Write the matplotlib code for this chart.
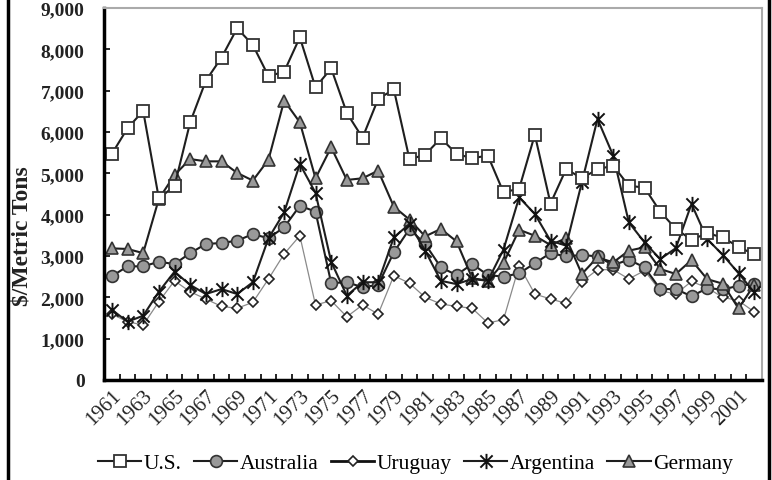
"""Unit prices, $/metric ton, 1961-2002: U.S., Australia, Uruguay, Argentina, Germany."""

import matplotlib

matplotlib.use("Agg")
import matplotlib.pyplot as plt
import numpy as np
from matplotlib.lines import Line2D
from matplotlib.path import Path

years = list(range(1961, 2003))

us = [5470, 6090, 6510, 4395, 4690, 6235, 7240, 7800, 8510, 8105,
      7350, 7460, 8290, 7080, 7540, 6460, 5860, 6800, 7030, 5340,
      5450, 5850, 5470, 5365, 5430, 4540, 4630, 5935, 4270, 5105,
      4880, 5100, 5185, 4700, 4655, 4075, 3655, 3395, 3550, 3450,
      3220, 3040]
australia = [2510, 2750, 2750, 2860, 2805, 3070, 3290, 3315, 3370, 3530,
             3430, 3695, 4215, 4075, 2345, 2365, 2245, 2300, 3090, 3655,
             3290, 2725, 2540, 2805, 2540, 2500, 2580, 2825, 3070, 2990,
             3025, 2990, 2780, 2910, 2725, 2200, 2200, 2025, 2220, 2190,
             2280, 2320]
uruguay = [1595, 1410, 1330, 1895, 2400, 2135, 1960, 1780, 1735, 1880,
           2445, 3050, 3490, 1815, 1920, 1530, 1815, 1595, 2525, 2340,
           2000, 1840, 1780, 1735, 1380, 1460, 2765, 2080, 1960, 1855,
           2380, 2670, 2670, 2445, 2645, 2160, 2080, 2385, 2230, 2000,
           1920, 1650]
argentina = [1700, 1410, 1555, 2135, 2620, 2300, 2080, 2200, 2080, 2365,
             3430, 4055, 5225, 4530, 2860, 2040, 2365, 2365, 3450, 3775,
             3130, 2400, 2320, 2445, 2400, 3155, 4420, 4015, 3370, 3250,
             4780, 6315, 5430, 3815, 3330, 2925, 3190, 4260, 3410, 3025,
             2585, 2120]
germany = [3185, 3170, 3070, 4380, 4960, 5345, 5290, 5290, 5010, 4825,
           5330, 6760, 6235, 4880, 5630, 4840, 4880, 5065, 4195, 3880,
           3475, 3655, 3355, 2465, 2400, 2830, 3635, 3490, 3265, 3430,
           2565, 2970, 2845, 3130, 3210, 2685, 2565, 2900, 2440, 2330,
           1730, 2300]

y_ticks = list(range(0, 9001, 1000))
x_labels = list(range(1961, 2002, 2))

SERIF = "Liberation Serif"
DARK = "#1e1e1e"

# Excel-style asterisk: an X plus a vertical bar
star = Path(
    [(-1, -1), (1, 1), (-1, 1), (1, -1), (0, -1.25), (0, 1.25)],
    [Path.MOVETO, Path.LINETO, Path.MOVETO, Path.LINETO, Path.MOVETO, Path.LINETO],
)

styles = {
    "U.S.": dict(marker="s", ms=8, mfc="white", mec="#333333", mew=1.3, color=DARK, lw=1.5),
    "Australia": dict(marker="o", ms=8.5, mfc="#999999", mec="#333333", mew=1.2, color=DARK, lw=1.5),
    "Uruguay": dict(marker="D", ms=5.5, mfc="white", mec="#222222", mew=1.2, color="#8a8a8a", lw=0.9),
    "Argentina": dict(marker=star, ms=11, mfc="none", mec="#111111", mew=1.4, color=DARK, lw=1.5),
    "Germany": dict(marker="^", ms=8.5, mfc="#999999", mec="#333333", mew=1.2, color=DARK, lw=1.5),
}
series = {"U.S.": us, "Australia": australia, "Uruguay": uruguay,
          "Argentina": argentina, "Germany": germany}

fig = plt.figure(figsize=(7.72, 4.81), dpi=100)
ax = fig.add_axes([104 / 772, 100 / 481, 658 / 772, 372 / 481])

for name in ["Uruguay", "Australia", "Germany", "Argentina", "U.S."]:
    ax.plot(years, series[name], label=name, **styles[name])

ax.set_xlim(1960.5, 2002.5)
ax.set_ylim(0, 9000)
ax.set_yticks(y_ticks)
ax.set_yticklabels([f"{v:,}" for v in y_ticks], fontfamily=SERIF, fontsize=14,
                   fontweight="bold", color="#222222")
ax.set_xticks(x_labels)
ax.set_xticklabels([str(v) for v in x_labels], fontfamily=SERIF, fontsize=15,
                   color="#222222", rotation=45, ha="right", rotation_mode="anchor")
ax.set_xticks(np.arange(1960.5, 2003, 1.0), minor=True)
ax.tick_params(axis="x", which="major", length=0, pad=4)
ax.tick_params(axis="x", which="minor", direction="in", length=4, width=1.2)
ax.tick_params(axis="y", direction="in", length=4, width=1.2, pad=14)

for side in ("left", "bottom"):
    ax.spines[side].set_linewidth(2.5)
    ax.spines[side].set_color("black")
for side in ("top", "right"):
    ax.spines[side].set_linewidth(1.5)
    ax.spines[side].set_color("#aaaaaa")

ax.set_ylabel(r"\$/Metric Tons", fontfamily=SERIF, fontsize=17, fontweight="bold",
              color="#222222")
ax.yaxis.set_label_coords(-0.108, 0.39)

order = ["U.S.", "Australia", "Uruguay", "Argentina", "Germany"]
handles = [Line2D([], [], **{**styles[n], "color": DARK if n != "Uruguay" else "#111111",
                             "lw": 1.5 if n != "Uruguay" else 2.0}) for n in order]
fig.legend(handles, order, loc="center", bbox_to_anchor=(0.538, 17 / 481), ncol=5,
           frameon=False, handlelength=2.0, handletextpad=0.1, columnspacing=0.6,
           prop={"family": SERIF, "size": 15.5})

# outer frame lines at the figure's left and right edges
fig.add_artist(Line2D([8 / 772, 8 / 772], [0, 1], color="black", lw=2.5, transform=fig.transFigure))
fig.add_artist(Line2D([769 / 772, 769 / 772], [0, 1], color="black", lw=2.5, transform=fig.transFigure))

fig.savefig("out.png", dpi=100)
